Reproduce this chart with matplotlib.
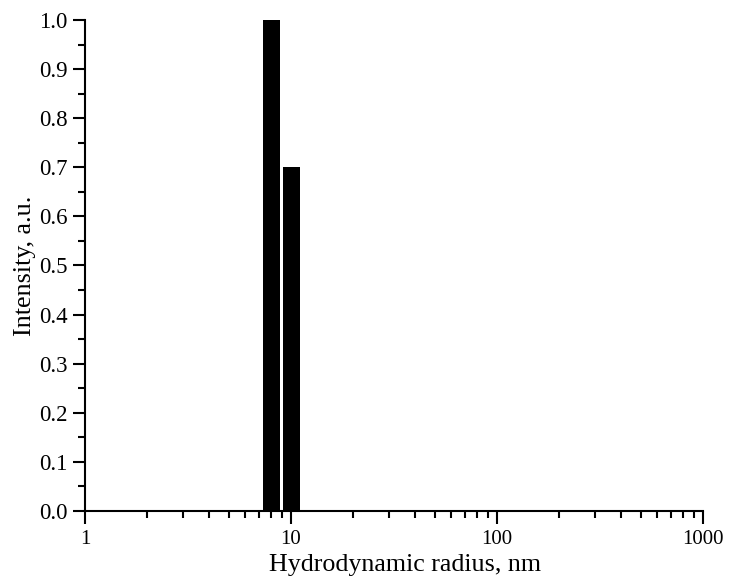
import numpy as np
import matplotlib
matplotlib.use('Agg')
import matplotlib.pyplot as plt
from matplotlib.ticker import MultipleLocator, LogLocator, NullFormatter

# bin edges (nm) and intensities
bin_left = [7.34, 9.15]
bin_right = [8.85, 11.06]
intensity = [1.0, 0.7]

x_ticks = [1, 10, 100, 1000]
x_ticklabels = ['1', '10', '100', '1000']

plt.rcParams['font.family'] = ['Liberation Serif', 'DejaVu Serif']

fig = plt.figure(figsize=(7.31, 5.87), dpi=100)
ax = fig.add_axes([85 / 731, 1 - 511 / 587, (703 - 85) / 731, (511 - 20) / 587])

widths = np.array(bin_right) - np.array(bin_left)
ax.bar(bin_left, intensity, width=widths, align='edge', color='black', edgecolor='none')

ax.set_xscale('log')
ax.set_xlim(1, 1000)
ax.set_ylim(0, 1.0)
ax.xaxis.set_minor_locator(LogLocator(base=10, subs=np.arange(2, 10)))
ax.xaxis.set_minor_formatter(NullFormatter())
ax.set_xticks(x_ticks)
ax.set_xticklabels(x_ticklabels)
ax.yaxis.set_major_locator(MultipleLocator(0.1))
ax.yaxis.set_minor_locator(MultipleLocator(0.05))
ax.yaxis.set_major_formatter(plt.FuncFormatter(lambda v, p: f'{v:.1f}'))

for s in ['top', 'right']:
    ax.spines[s].set_visible(False)
for s in ['left', 'bottom']:
    ax.spines[s].set_linewidth(1.5)

ax.tick_params(which='major', direction='out', length=9, width=1.5, pad=5)
ax.tick_params(which='minor', direction='out', length=5, width=1.5)
ax.tick_params(axis='x', labelsize=15)
ax.tick_params(axis='y', labelsize=16.5, pad=3.5)

ax.set_xlabel('Hydrodynamic radius, nm', fontsize=18.7)
ax.xaxis.set_label_coords(0.518, -0.087)
ax.set_ylabel('Intensity, a.u.', fontsize=18.7)
ax.yaxis.set_label_coords(-0.08, 0.5)

fig.savefig('out.png', dpi=100)
